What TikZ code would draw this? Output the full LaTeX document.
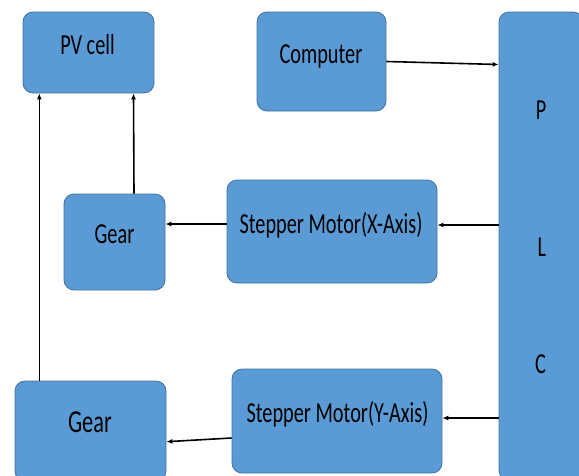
\documentclass[tikz,border=0pt]{standalone}
\usepackage{fontspec}
\setmainfont{Carlito}[FakeStretch=0.7]
\usetikzlibrary{arrows.meta}
\definecolor{boxfill}{HTML}{5B9BD5}
\definecolor{boxline}{HTML}{41719C}
\begin{document}
\begin{tikzpicture}[x=1pt,y=-1pt,
  blk/.style={draw=boxline, line width=0.8pt, fill=boxfill, rounded corners=10pt, inner sep=0pt},
  lbl/.style={anchor=base, inner sep=0pt, font=\fontsize{29}{34}\selectfont, text=black},
  arr/.style={-{Latex[length=6pt,width=5pt]}, line width=1.6pt, black}]
\useasboundingbox (0,0) rectangle (579,475);
\clip (0,0) rectangle (579,475);
% boxes
\node[blk, minimum width=131pt, minimum height=81pt] (pv) at (88.5,52.5) {};
\node[blk, minimum width=129pt, minimum height=99pt] (comp) at (321.5,61.5) {};
\node[blk, minimum width=84pt, minimum height=468pt] (plc) at (541,246) {};
\node[blk, minimum width=101pt, minimum height=96pt] (g1) at (114.5,242) {};
\node[blk, minimum width=210pt, minimum height=103pt] (sx) at (332,231.5) {};
\node[blk, minimum width=151pt, minimum height=100pt] (g2) at (90.5,431) {};
\node[blk, minimum width=210pt, minimum height=104pt] (sy) at (337,421) {};
% labels
\node[lbl] (pvt) at (87.5,54) {PV cell};
\node[lbl] (compt) at (321,63) {Computer};
\node[lbl] (plcp) at (541,119) {P};
\node[lbl] (plcl) at (542,256) {L};
\node[lbl] (plcc) at (540.5,373) {C};
\node[lbl] (g1t) at (114.5,243) {Gear};
\node[lbl] (sxt) at (331,233) {Stepper Motor(X-Axis)};
\node[lbl, font=\fontsize{32}{38}\selectfont] (g2t) at (90,432) {Gear};
\node[lbl] (syt) at (337.5,422) {Stepper Motor(Y-Axis)};
% connectors
\draw[arr] (comp.east) -- ([yshift=-3pt]comp.east -| plc.west);
\draw[arr] ([yshift=6.5pt]sx.east -| plc.west) -- ([yshift=6.5pt]sx.east);
\draw[arr] ([yshift=7.5pt]sx.west) -- ([yshift=7.5pt]sx.west -| g1.east);
\draw[arr] ([yshift=3pt]sy.east -| plc.west) -- ([yshift=3pt]sy.east);
\draw[arr] ([yshift=-17pt]sy.west) -- ([yshift=-20.7pt]sy.west -| g2.east);
\draw[arr] ([xshift=19.5pt]g1.north) -- ([xshift=19pt]g1.north |- pv.south);
\draw[arr] ([xshift=-51.2pt]g2.north) -- ([xshift=-51.2pt]g2.north |- pv.south);
\end{tikzpicture}
\end{document}
